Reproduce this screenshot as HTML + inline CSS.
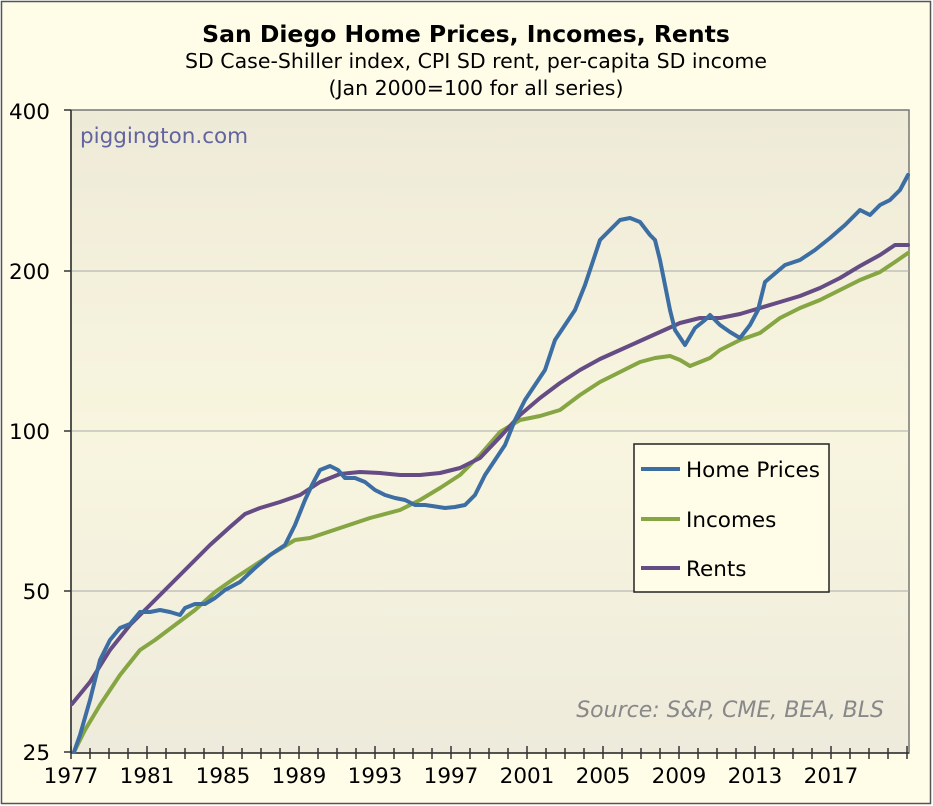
<!DOCTYPE html>
<html><head><meta charset="utf-8"><style>
body{margin:0;background:#fff;}
svg{display:block;font-family:"DejaVu Sans","Liberation Sans",sans-serif;}
</style></head><body>
<svg width="933" height="806" viewBox="0 0 933 806" xmlns="http://www.w3.org/2000/svg">
<defs>
<linearGradient id="g" x1="0" y1="0" x2="0" y2="1">
<stop offset="0" stop-color="#eeead8"/><stop offset="0.5" stop-color="#f8f5df"/><stop offset="1" stop-color="#eeebdc"/>
</linearGradient>
</defs>
<rect x="1.5" y="1.5" width="929" height="802" fill="#fffde8" stroke="#555" stroke-width="1.5"/>
<text x="466" y="42" text-anchor="middle" font-size="23.5" font-weight="bold">San Diego Home Prices, Incomes, Rents</text>
<text x="476" y="68" text-anchor="middle" font-size="20.5">SD Case-Shiller index, CPI SD rent, per-capita SD income</text>
<text x="476" y="95" text-anchor="middle" font-size="20.5">(Jan 2000=100 for all series)</text>
<rect x="71" y="110" width="838" height="643" fill="url(#g)" stroke="#777" stroke-width="1.5"/>
<g stroke="#aaa" stroke-width="1">
<line x1="71" y1="271" x2="909" y2="271"/><line x1="71" y1="431" x2="909" y2="431"/><line x1="71" y1="591" x2="909" y2="591"/>
</g>
<g stroke="#333" stroke-width="1.5">
<line x1="71" y1="110" x2="71" y2="753"/>
<line x1="64" y1="110" x2="71" y2="110"/><line x1="64" y1="271" x2="71" y2="271"/><line x1="64" y1="431" x2="71" y2="431"/><line x1="64" y1="591" x2="71" y2="591"/><line x1="64" y1="752" x2="71" y2="752"/>
<line x1="71" y1="753" x2="909" y2="753"/>
</g>
<g id="ticks" stroke="#333" stroke-width="1.5"></g>
<g font-size="21.5" text-anchor="end">
<text x="50" y="119">400</text><text x="50" y="279">200</text><text x="50" y="439">100</text><text x="50" y="599">50</text><text x="50" y="760">25</text>
</g>
<g id="xl" font-size="21.5" text-anchor="middle"></g>
<text x="80" y="143" font-size="21.5" fill="#6264a0">piggington.com</text>
<text x="884" y="717" font-size="22" fill="#888" font-style="italic" text-anchor="end">Source: S&amp;P, CME, BEA, BLS</text>
<g fill="none" stroke-width="4" stroke-linejoin="round" stroke-linecap="round">
<polyline stroke="#86a543" points="74,752 85,730 100,705 120,675 140,650 155,640 175,625 195,610 215,592 235,578 255,565 275,552 295,540 310,538 340,528 370,518 400,510 420,500 440,488 460,475 480,455 500,432 520,420 540,416 560,410 580,395 600,382 620,372 640,362 655,358 670,356 680,360 690,366 700,362 710,358 720,350 740,340 760,333 780,318 800,308 820,300 840,290 860,280 880,272 895,262 908,253"/>
<polyline stroke="#654c84" points="72,704 90,682 110,650 130,625 150,605 170,585 190,565 210,545 230,527 245,514 260,508 280,502 300,495 320,482 340,474 360,472 380,473 400,475 420,475 440,473 460,468 480,458 500,437 520,415 540,398 560,383 580,370 600,359 620,350 640,341 660,332 680,323 700,318 720,318 740,314 760,308 780,302 800,296 820,288 840,278 860,266 880,255 895,245 908,245"/>
<polyline stroke="#3d6ea3" points="74,752 80,735 90,700 100,660 110,640 120,628 130,624 140,612 150,612 160,610 170,612 180,615 185,608 195,604 205,604 215,598 225,590 240,582 255,568 270,555 285,545 295,525 305,500 312,485 320,470 330,466 338,470 345,478 355,478 365,482 375,490 385,495 395,498 405,500 415,505 425,505 432,506 445,508 455,507 465,505 475,495 485,475 495,460 505,445 515,420 525,400 535,385 545,370 555,340 565,325 575,310 585,285 595,255 600,240 610,230 620,220 630,218 640,222 650,235 655,240 660,260 665,285 670,310 675,330 685,345 695,328 705,320 710,315 720,325 730,332 740,338 750,325 758,310 765,282 772,276 785,265 800,260 815,250 830,238 845,225 860,210 870,215 880,205 890,200 900,190 908,175"/>
</g>
<rect x="634" y="444" width="195" height="148" fill="#fffde8" stroke="#222" stroke-width="1.5"/>
<g stroke-width="4"><line x1="641" y1="469" x2="680" y2="469" stroke="#3d6ea3"/><line x1="641" y1="519" x2="680" y2="519" stroke="#86a543"/><line x1="641" y1="568" x2="680" y2="568" stroke="#654c84"/></g>
<g font-size="21.5"><text x="686" y="477">Home Prices</text><text x="686" y="527">Incomes</text><text x="686" y="576">Rents</text></g>
<script>
var t=document.getElementById('ticks'),xl=document.getElementById('xl'),ns='http://www.w3.org/2000/svg';
for(var y=1977;y<=2021;y++){var x=71+19*(y-1977);if(x>909)x=909;var l=document.createElementNS(ns,'line');var maj=(y-1977)%4==0;
l.setAttribute('x1',x);l.setAttribute('x2',x);l.setAttribute('y1',maj?746:748);l.setAttribute('y2',759);t.appendChild(l);
if(maj&&y<2021){var s=document.createElementNS(ns,'text');s.setAttribute('x',x);s.setAttribute('y',783);s.textContent=y;xl.appendChild(s);}}
</script>
</svg>
</body></html>
